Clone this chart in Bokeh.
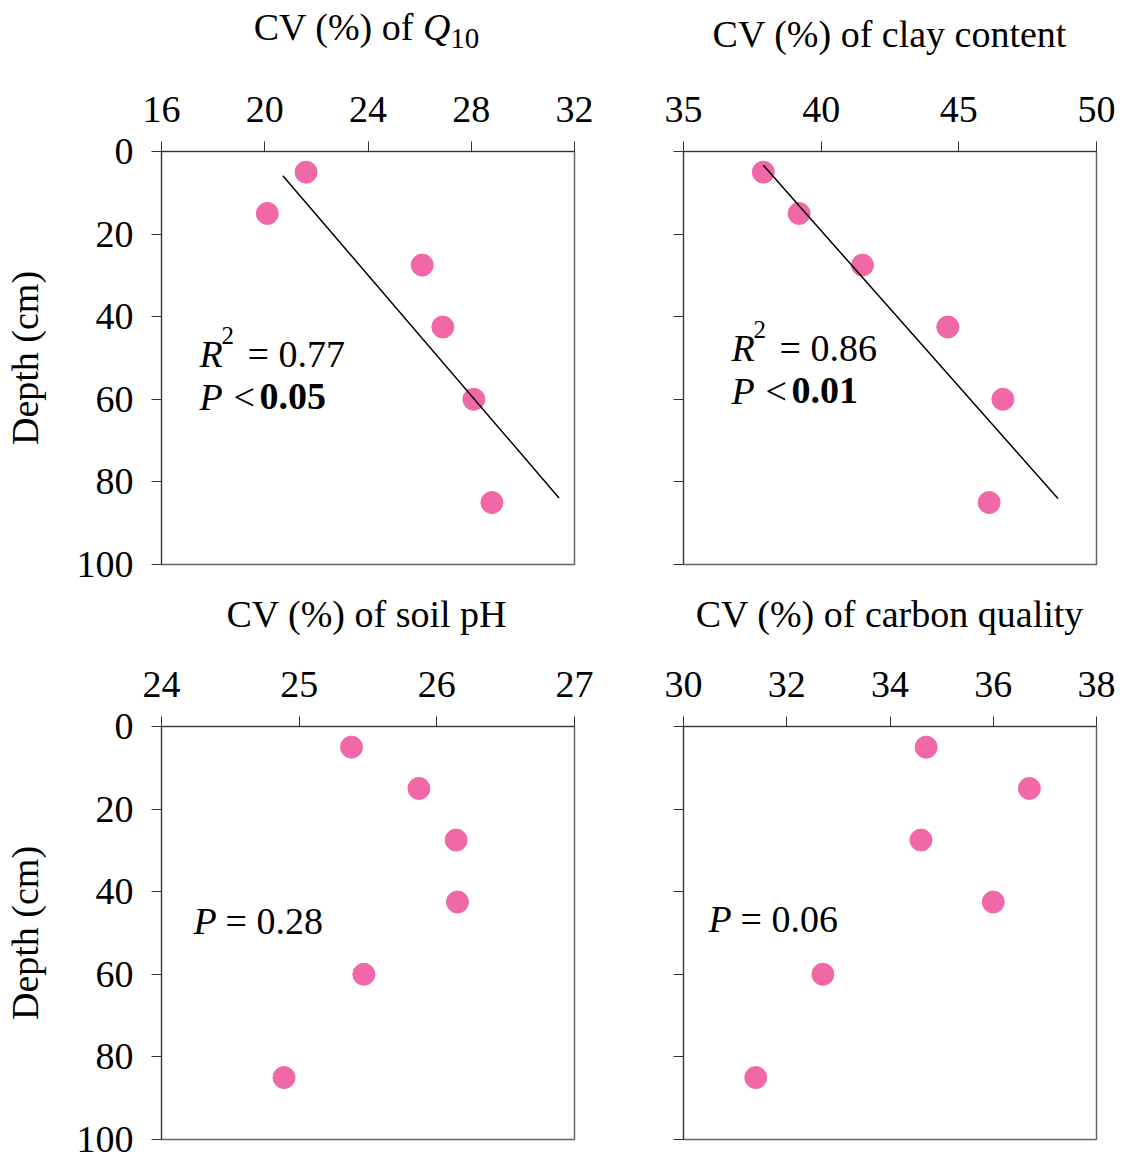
import numpy as np
from bokeh.plotting import figure
from bokeh.layouts import column, row
from bokeh.models import Range1d, Label, FixedTicker, Div
from bokeh.embed import file_html
from bokeh.resources import INLINE

# ---------------- data ----------------
depth = [5, 15, 27.5, 42.5, 60, 85]
cv_q10 = [21.6, 20.1, 26.1, 26.9, 28.1, 28.8]
cv_clay = [37.9, 39.2, 41.5, 44.6, 46.6, 46.1]
cv_ph = [25.38, 25.87, 26.14, 26.15, 25.47, 24.89]
cv_carbon = [34.7, 36.7, 34.6, 36.0, 32.7, 31.4]

q10_ticks = [16, 20, 24, 28, 32]
clay_ticks = [35, 40, 45, 50]
ph_ticks = [24, 25, 26, 27]
carbon_ticks = [30, 32, 34, 36, 38]
depth_ticks = [0, 20, 40, 60, 80, 100]

# CV extent over which the depth~CV regression line is drawn
q10_fit_span = [20.7, 31.4]
clay_fit_span = [37.9, 48.6]

FONT = "Liberation Serif"
FS = "38px"
PINK = "#F068A8"
FRAME = 413


def make_panel(xr, xticks, left_b, right_b, top_b, bottom_b, ylabels):
    p = figure(frame_width=FRAME, frame_height=FRAME,
               x_range=Range1d(xr[0], xr[-1]), y_range=Range1d(100, 0),
               x_axis_location="above", output_backend="svg", toolbar_location=None,
               min_border_left=left_b, min_border_right=right_b,
               min_border_top=top_b, min_border_bottom=bottom_b)
    p.xgrid.visible = False
    p.ygrid.visible = False
    p.outline_line_color = "#666666"
    p.outline_line_width = 1.5
    p.background_fill_color = "white"
    p.border_fill_color = "white"
    for ax in (p.xaxis[0], p.yaxis[0]):
        ax.axis_line_color = "#333333"
        ax.major_tick_line_color = "#333333"
        ax.major_tick_out = 10
        ax.major_tick_in = 0
        ax.minor_tick_out = 0
        ax.minor_tick_in = 0
        ax.major_label_text_font = FONT
        ax.major_label_text_font_size = FS
        ax.major_label_text_color = "black"
    p.xaxis[0].ticker = FixedTicker(ticks=xticks)
    p.yaxis[0].ticker = FixedTicker(ticks=depth_ticks)
    p.xaxis[0].major_label_standoff = 20
    p.yaxis[0].major_label_standoff = 18
    if ylabels:
        p.yaxis[0].axis_label = "Depth (cm)"
        p.yaxis[0].axis_label_text_font = FONT
        p.yaxis[0].axis_label_text_font_size = FS
        p.yaxis[0].axis_label_text_font_style = "normal"
        p.yaxis[0].axis_label_text_color = "black"
        p.yaxis[0].axis_label_standoff = 28
    else:
        # tick marks only, no tick labels
        p.yaxis[0].major_label_text_font_size = "1px"
        p.yaxis[0].major_label_text_color = None
        p.yaxis[0].major_label_standoff = 0
    return p


def title_div(html, width, frame_left, pad_top, height=62):
    inner = (f'<div style="margin-left:{frame_left}px; width:{FRAME}px; '
             f'padding-top:{pad_top}px; text-align:center; white-space:nowrap; '
             f'font-family:\'{FONT}\'; font-size:{FS}; line-height:38px; color:black;">'
             f'{html}</div>')
    return Div(text=inner, width=width, height=height, margin=(0, 0, 0, 0))


def txt(p, dx, dy, text, size=FS, style="normal", align="left"):
    # dx, dy: pixels from the top-left corner of the frame (dy positive downward)
    p.add_layout(Label(x=p.x_range.start, y=0, x_offset=dx, y_offset=-dy,
                       text=text, text_font=FONT, text_font_size=size,
                       text_font_style=style, text_align=align,
                       text_baseline="alphabetic", text_color="black"))


def points(p, cv):
    p.scatter(cv, depth, size=22, color=PINK, line_color=PINK)


def fit_line(p, cv, span):
    b, a = np.polyfit(cv, depth, 1)
    xs = np.array(span)
    p.line(xs, a + b * xs, line_color="black", line_width=1.5)


LW, RW = 620, 503

# panel 1
p1 = make_panel(q10_ticks, q10_ticks, 160, 47, 89, 22, True)
points(p1, cv_q10)
fit_line(p1, cv_q10, q10_fit_span)
txt(p1, 38, 202, "R", style="italic")
txt(p1, 60, 184, "2", size="25px")
txt(p1, 86, 202, "= 0.77")
txt(p1, 38, 245, "P", style="italic")
txt(p1, 72, 245, "<")
txt(p1, 98, 245, "0.05", style="bold")
d1 = title_div('CV (%) of <i>Q</i><span style="font-size:29px; position:relative; top:8px;">10</span>',
               LW, 160, 8)

# panel 2
p2 = make_panel(clay_ticks, clay_ticks, 62, 28, 89, 22, False)
points(p2, cv_clay)
fit_line(p2, cv_clay, clay_fit_span)
txt(p2, 48, 196, "R", style="italic")
txt(p2, 70, 178, "2", size="25px")
txt(p2, 96, 196, "= 0.86")
txt(p2, 48, 239, "P", style="italic")
txt(p2, 82, 239, "<")
txt(p2, 108, 239, "0.01", style="bold")
d2 = title_div('CV (%) of clay content', RW, 62, 15)

# panel 3
p3 = make_panel(ph_ticks, ph_ticks, 160, 47, 78, 20, True)
points(p3, cv_ph)
txt(p3, 32, 194, "P", style="italic")
txt(p3, 64, 194, "= 0.28")
d3 = title_div('CV (%) of soil pH', LW, 160, 9)

# panel 4
p4 = make_panel(carbon_ticks, carbon_ticks, 62, 28, 78, 20, False)
points(p4, cv_carbon)
txt(p4, 25, 192, "P", style="italic")
txt(p4, 57, 192, "= 0.06")
d4 = title_div('CV (%) of carbon quality', RW, 62, 9)

layout = column(
    row(column(d1, p1, spacing=0), column(d2, p2, spacing=0), spacing=0),
    row(column(d3, p3, spacing=0), column(d4, p4, spacing=0), spacing=0),
    spacing=0)
open("out.html", "w").write(file_html(layout, INLINE))
